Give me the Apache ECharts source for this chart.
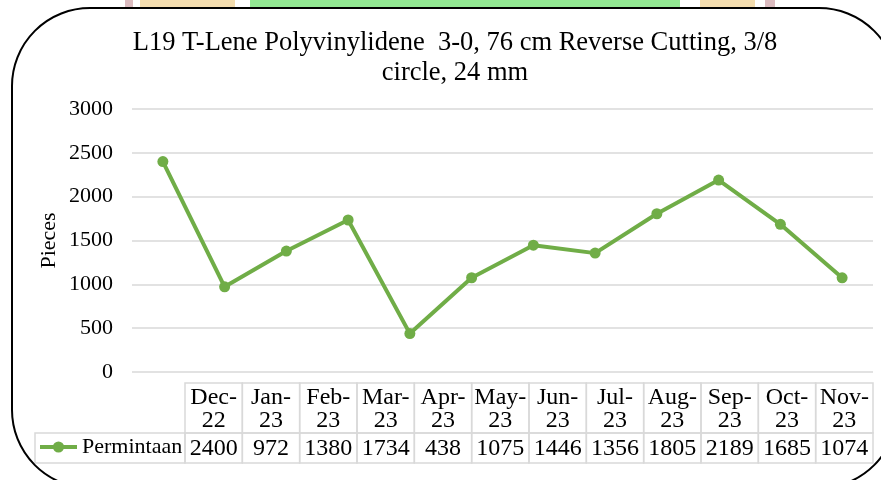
<!DOCTYPE html>
<html>
<head>
<meta charset="utf-8">
<script src="https://cdn.jsdelivr.net/npm/echarts@6/dist/echarts.min.js"></script>
<style>
  html, body { margin: 0; padding: 0; background: #fff; }
  #chart { width: 881px; height: 480px; }
</style>
</head>
<body>
<div id="chart"></div>
<script>
// months as shown in the data table (two lines each)
var months = ['Dec-\n22', 'Jan-\n23', 'Feb-\n23', 'Mar-\n23', 'Apr-\n23', 'May-\n23',
              'Jun-\n23', 'Jul-\n23', 'Aug-\n23', 'Sep-\n23', 'Oct-\n23', 'Nov-\n23'];
var permintaan = [2400, 972, 1380, 1734, 438, 1075, 1446, 1356, 1805, 2189, 1685, 1074];
var yTicks = [0, 500, 1000, 1500, 2000, 2500, 3000];

var serif = '"Liberation Serif", "Times New Roman", serif';
var green = '#70ad47';
var cellLine = '#d9d9d9';

var chart = echarts.init(document.getElementById('chart'));

// table cells: one item per month
var tableData = months.map(function (m, i) { return [i, permintaan[i]]; });

var option = {
    backgroundColor: '#fff',
    animation: false,
    title: {
        text: 'L19 T-Lene Polyvinylidene  3-0, 76 cm Reverse Cutting, 3/8\ncircle, 24 mm',
        left: 455,
        textAlign: 'center',
        top: 28,
        padding: 0,
        textStyle: {
            fontFamily: serif,
            fontSize: 26.5,
            fontWeight: 'normal',
            color: '#000',
            lineHeight: 30
        }
    },
    legend: {
        left: 38,
        top: 436,
        padding: 0,
        itemWidth: 37,
        itemHeight: 14,
        itemGap: 0,
        data: ['Permintaan'],
        lineStyle: { width: 4 },
        textStyle: { fontFamily: serif, fontSize: 22, color: '#000' }
    },
    grid: [
        { left: 132, right: 8, top: 109, bottom: 108 },
        { left: 185, right: 8, top: 383, bottom: 17 }
    ],
    xAxis: [
        {
            gridIndex: 0,
            type: 'category',
            data: months,
            boundaryGap: true,
            axisLine: { show: false },
            axisTick: { show: false },
            axisLabel: { show: false }
        },
        {
            gridIndex: 1,
            type: 'category',
            data: months,
            boundaryGap: true,
            show: false
        }
    ],
    yAxis: [
        {
            gridIndex: 0,
            type: 'value',
            min: yTicks[0],
            max: yTicks[yTicks.length - 1],
            interval: 500,
            name: 'Pieces',
            nameLocation: 'middle',
            nameRotate: 90,
            nameGap: 72,
            nameMoveOverlap: false,
            nameTextStyle: { fontFamily: serif, fontSize: 22, color: '#000' },
            axisLine: { show: false },
            axisTick: { show: false },
            axisLabel: {
                fontFamily: serif, fontSize: 22, color: '#000', margin: 19,
                formatter: function (v) { return String(v); }
            },
            splitLine: { lineStyle: { color: cellLine, width: 1.5 } }
        },
        {
            gridIndex: 1,
            type: 'value',
            min: 0,
            max: 80,
            show: false
        }
    ],
    series: [
        {
            name: 'Permintaan',
            type: 'line',
            xAxisIndex: 0,
            yAxisIndex: 0,
            data: permintaan,
            symbol: 'circle',
            symbolSize: 11,
            color: green,
            lineStyle: { width: 4, color: green },
            itemStyle: { color: green }
        },
        {
            name: 'table',
            type: 'custom',
            xAxisIndex: 1,
            yAxisIndex: 1,
            data: tableData,
            silent: true,
            renderItem: function (params, api) {
                var i = api.value(0);
                var top = api.coord([i, 80]);
                var mid = api.coord([i, 30]);
                var bot = api.coord([i, 0]);
                var w = api.size([1, 0])[0];
                var x0 = top[0] - w / 2;
                return {
                    type: 'group',
                    children: [
                        {
                            type: 'rect',
                            shape: { x: x0, y: top[1], width: w, height: mid[1] - top[1] },
                            style: { fill: 'none', stroke: cellLine, lineWidth: 1.5 }
                        },
                        {
                            type: 'rect',
                            shape: { x: x0, y: mid[1], width: w, height: bot[1] - mid[1] },
                            style: { fill: 'none', stroke: cellLine, lineWidth: 1.5 }
                        },
                        {
                            type: 'text',
                            style: {
                                x: top[0], y: (top[1] + mid[1]) / 2 + 1,
                                text: months[i],
                                align: 'center', verticalAlign: 'middle',
                                font: '24px ' + serif, lineHeight: 23, fill: '#000'
                            }
                        },
                        {
                            type: 'text',
                            style: {
                                x: top[0], y: (mid[1] + bot[1]) / 2 + 1,
                                text: String(api.value(1)),
                                align: 'center', verticalAlign: 'middle',
                                font: '24px ' + serif, fill: '#000'
                            }
                        }
                    ]
                };
            }
        }
    ],
    graphic: [
        // faint page colours showing above the chart frame
        { type: 'rect', shape: { x: 125, y: 0, width: 8, height: 7 }, style: { fill: '#dcbcc0' }, z: -1 },
        { type: 'rect', shape: { x: 140, y: 0, width: 95, height: 7 }, style: { fill: '#f3dcae' }, z: -1 },
        { type: 'rect', shape: { x: 250, y: 0, width: 430, height: 7 }, style: { fill: '#92e892' }, z: -1 },
        { type: 'rect', shape: { x: 700, y: 0, width: 55, height: 7 }, style: { fill: '#f3dcae' }, z: -1 },
        { type: 'rect', shape: { x: 765, y: 0, width: 10, height: 7 }, style: { fill: '#dcbcc0' }, z: -1 },
        // rounded chart frame
        {
            type: 'rect',
            shape: { x: 12, y: 8, width: 885, height: 480, r: 78 },
            style: { fill: 'none', stroke: '#000', lineWidth: 2 },
            z: 10
        },
        // legend cell of the data table
        {
            type: 'rect',
            shape: { x: 35, y: 433, width: 150, height: 30 },
            style: { fill: 'none', stroke: cellLine, lineWidth: 1.5 }
        }
    ]
};

chart.setOption(option);
</script>
</body>
</html>
